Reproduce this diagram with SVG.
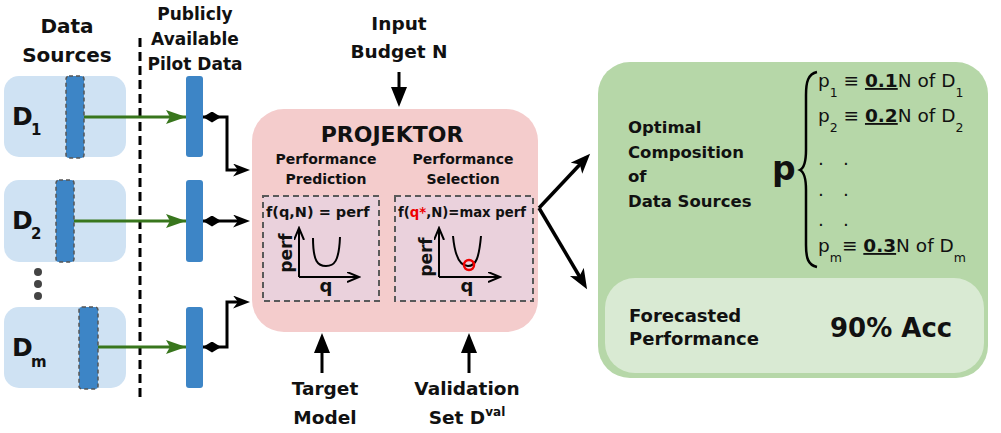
<svg xmlns="http://www.w3.org/2000/svg" width="1001" height="433" viewBox="0 0 1001 433">
<defs>
<style>
text{font-family:"DejaVu Sans","Open Sans",sans-serif;fill:#111;}
.b{font-weight:bold;}
.mid{text-anchor:middle;}
.src{fill:#cfe2f3;}
.strip{fill:#3d85c6;stroke:#555;stroke-width:1.5;stroke-dasharray:4 3;}
.bar{fill:#3d85c6;}
.garrow{stroke:#38761d;stroke-width:3;fill:none;marker-end:url(#ga);}
.conn{stroke:#000;stroke-width:3;fill:none;marker-start:url(#dia);marker-end:url(#ka);}
.inarrow{stroke:#000;stroke-width:3;fill:none;marker-end:url(#ta);}
.outarrow{stroke:#000;stroke-width:3.5;fill:none;marker-end:url(#oa);}
.inner{fill:#ead1dc;stroke:#595959;stroke-width:2;stroke-dasharray:6 4;}
.axis{stroke:#000;stroke-width:2;fill:none;marker-end:url(#xa);}
.curve{stroke:#000;stroke-width:2;fill:none;}
.pl{font-size:18.5px;}
.sub{font-size:12.5px;}
</style>
<marker id="ga" markerUnits="userSpaceOnUse" markerWidth="22" markerHeight="16" refX="20" refY="7" orient="auto"><path d="M0,0 L20,7 L0,14 L4,7 Z" fill="#38761d"/></marker>
<marker id="ka" markerUnits="userSpaceOnUse" markerWidth="20" markerHeight="16" refX="11" refY="6.5" orient="auto"><path d="M0,0 L17,6.5 L0,13 L5,6.5 Z" fill="#000"/></marker>
<marker id="dia" markerUnits="userSpaceOnUse" markerWidth="20" markerHeight="14" refX="0" refY="5.5" orient="auto"><path d="M0,5.5 L9,0 L18,5.5 L9,11 Z" fill="#000"/></marker>
<marker id="ta" markerUnits="userSpaceOnUse" markerWidth="22" markerHeight="18" refX="14" refY="8" orient="auto"><path d="M0,0 L20,8 L0,16 Z" fill="#000"/></marker>
<marker id="oa" markerUnits="userSpaceOnUse" markerWidth="24" markerHeight="18" refX="14" refY="8" orient="auto"><path d="M0,0 L20,8 L0,16 L5,8 Z" fill="#000"/></marker>
<marker id="xa" markerUnits="userSpaceOnUse" markerWidth="14" markerHeight="12" refX="10" refY="5" orient="auto"><path d="M0,0 L12,5 L0,10" fill="none" stroke="#000" stroke-width="2"/></marker>
</defs>
<rect width="1001" height="433" fill="#fff"/>

<g id="headers">
<text class="b mid" x="67" y="33" font-size="20">Data</text>
<text class="b mid" x="67" y="62" font-size="20">Sources</text>
<text class="b mid" x="195" y="20" font-size="17">Publicly</text>
<text class="b mid" x="195" y="45" font-size="17">Available</text>
<text class="b mid" x="195" y="70" font-size="17">Pilot Data</text>
</g>

<line x1="140" y1="38" x2="140" y2="402" stroke="#000" stroke-width="3" stroke-dasharray="9 5"/>

<g id="source-d1">
<rect class="src" x="4" y="76" width="122" height="81" rx="15"/>
<rect class="strip" x="66" y="76" width="18" height="82" rx="3"/>
<text class="b" x="12" y="125" font-size="25">D</text><text class="b" x="31" y="135" font-size="15">1</text>
</g>
<g id="source-d2">
<rect class="src" x="4" y="180" width="122" height="82" rx="15"/>
<rect class="strip" x="56" y="180" width="18" height="82" rx="3"/>
<text class="b" x="12" y="229" font-size="25">D</text><text class="b" x="31" y="239" font-size="15">2</text>
</g>
<g id="ellipsis">
<circle cx="38" cy="272" r="4" fill="#444"/>
<circle cx="38" cy="284" r="4" fill="#444"/>
<circle cx="38" cy="296" r="4" fill="#444"/>
</g>
<g id="source-dm">
<rect class="src" x="4" y="307" width="122" height="81" rx="15"/>
<rect class="strip" x="79" y="307" width="19" height="82" rx="3"/>
<text class="b" x="12" y="356" font-size="25">D</text><text class="b" x="31" y="367" font-size="15">m</text>
</g>

<g id="pilot-1"><rect class="bar" x="186" y="76" width="17" height="81" rx="3"/></g>
<g id="pilot-2"><rect class="bar" x="186" y="180" width="17" height="82" rx="3"/></g>
<g id="pilot-m"><rect class="bar" x="186" y="307" width="17" height="81" rx="3"/></g>

<g id="projektor">
<rect x="252" y="109" width="286" height="223" rx="32" fill="#f4cccc"/>
<text class="b mid" x="392" y="142" font-size="22">PROJEKTOR</text>
<text class="b mid" x="326" y="164" font-size="14">Performance</text>
<text class="b mid" x="326" y="184" font-size="14">Prediction</text>
<text class="b mid" x="463" y="164" font-size="14">Performance</text>
<text class="b mid" x="463" y="184" font-size="14">Selection</text>
<rect class="inner" x="263" y="196" width="116" height="105"/>
<rect class="inner" x="395" y="196" width="138" height="105"/>
<text class="b" x="266" y="217" font-size="14.5">f(q,N) = perf</text>
<text class="b" x="398" y="217" font-size="14" textLength="128" lengthAdjust="spacingAndGlyphs">f(<tspan fill="#e00">q*</tspan>,N)=max perf</text>
<path class="axis" d="M299,277 V230"/>
<path class="axis" d="M299,277 H357"/>
<path class="curve" d="M313,238 C313,262 318,266 326,266 C334,266 339,262 340,237"/>
<text class="b mid" transform="translate(292,253) rotate(-90)" font-size="17">perf</text>
<text class="b mid" x="326" y="292" font-size="18">q</text>
<path class="axis" d="M439,277 V230"/>
<path class="axis" d="M439,277 H498"/>
<path class="curve" d="M453,236 C455,258 460,266 468,266 C476,266 479,258 481,236"/>
<circle cx="469" cy="265" r="5" fill="none" stroke="#e00" stroke-width="2.5"/>
<text class="b mid" transform="translate(432,257) rotate(-90)" font-size="17">perf</text>
<text class="b mid" x="467" y="292" font-size="18">q</text>
</g>

<g id="input-budget">
<text class="b mid" x="399" y="30" font-size="18.5">Input</text>
<text class="b mid" x="399" y="58" font-size="18.5">Budget N</text>
</g>
<g id="target-model">
<text class="b mid" x="325" y="395" font-size="18.5">Target</text>
<text class="b mid" x="325" y="424" font-size="18.5">Model</text>
</g>
<g id="validation-set">
<text class="b mid" x="467" y="395" font-size="18.5">Validation</text>
<text class="b mid" x="467" y="424" font-size="18.5">Set D<tspan dy="-8" font-size="12">val</tspan></text>
</g>

<g id="result">
<rect x="598" y="62" width="390" height="316" rx="32" fill="#b6d7a8"/>
<text class="b" x="628" y="133" font-size="16.5">Optimal</text>
<text class="b" x="628" y="158" font-size="16.5">Composition</text>
<text class="b" x="628" y="182" font-size="16.5">of</text>
<text class="b" x="628" y="207" font-size="16.5">Data Sources</text>
<text class="b" x="772" y="180" font-size="33">p</text>
<path d="M817,72 C808,74 806,82 806,95 L806,150 C806,162 804,168 800,170 C804,172 806,178 806,190 L806,245 C806,258 808,265 817,267" fill="none" stroke="#000" stroke-width="2.5"/>
<text class="pl" x="818" y="87">p<tspan class="sub" dy="10">1</tspan><tspan dy="-10"> ≡ </tspan><tspan class="b" text-decoration="underline">0.1</tspan>N of D<tspan class="sub" dy="10">1</tspan></text>
<text class="pl" x="818" y="122">p<tspan class="sub" dy="10">2</tspan><tspan dy="-10"> ≡ </tspan><tspan class="b" text-decoration="underline">0.2</tspan>N of D<tspan class="sub" dy="10">2</tspan></text>
<text class="pl" x="818" y="165">.</text><text class="pl" x="843" y="165">.</text>
<text class="pl" x="818" y="196">.</text><text class="pl" x="843" y="196">.</text>
<text class="pl" x="818" y="226">.</text><text class="pl" x="843" y="226">.</text>
<text class="pl" x="818" y="252">p<tspan class="sub" dy="10">m</tspan><tspan dy="-10">≡ </tspan><tspan class="b" text-decoration="underline">0.3</tspan>N of D<tspan class="sub" dy="10">m</tspan></text>
<rect x="605" y="278" width="379" height="95" rx="30" fill="#d9ead3"/>
<text class="b" x="629" y="322" font-size="18">Forecasted</text>
<text class="b" x="629" y="345" font-size="18">Performance</text>
<text class="b" x="830" y="337" font-size="26">90% Acc</text>
</g>

<g id="connectors">
<path class="garrow" d="M84,117 H186"/>
<path class="garrow" d="M74,221 H186"/>
<path class="garrow" d="M98,347 H186"/>
<path class="conn" d="M203,117 H227 V170 H244"/>
<path class="conn" d="M203,221 H244"/>
<path class="conn" d="M203,347 H227 V302 H244"/>
<path class="inarrow" d="M399,72 V101"/>
<path class="inarrow" d="M322,373 V339"/>
<path class="inarrow" d="M469,373 V339"/>
<path class="outarrow" d="M539,208 L586,158"/>
<path class="outarrow" d="M539,208 L584,284"/>
</g>
</svg>
